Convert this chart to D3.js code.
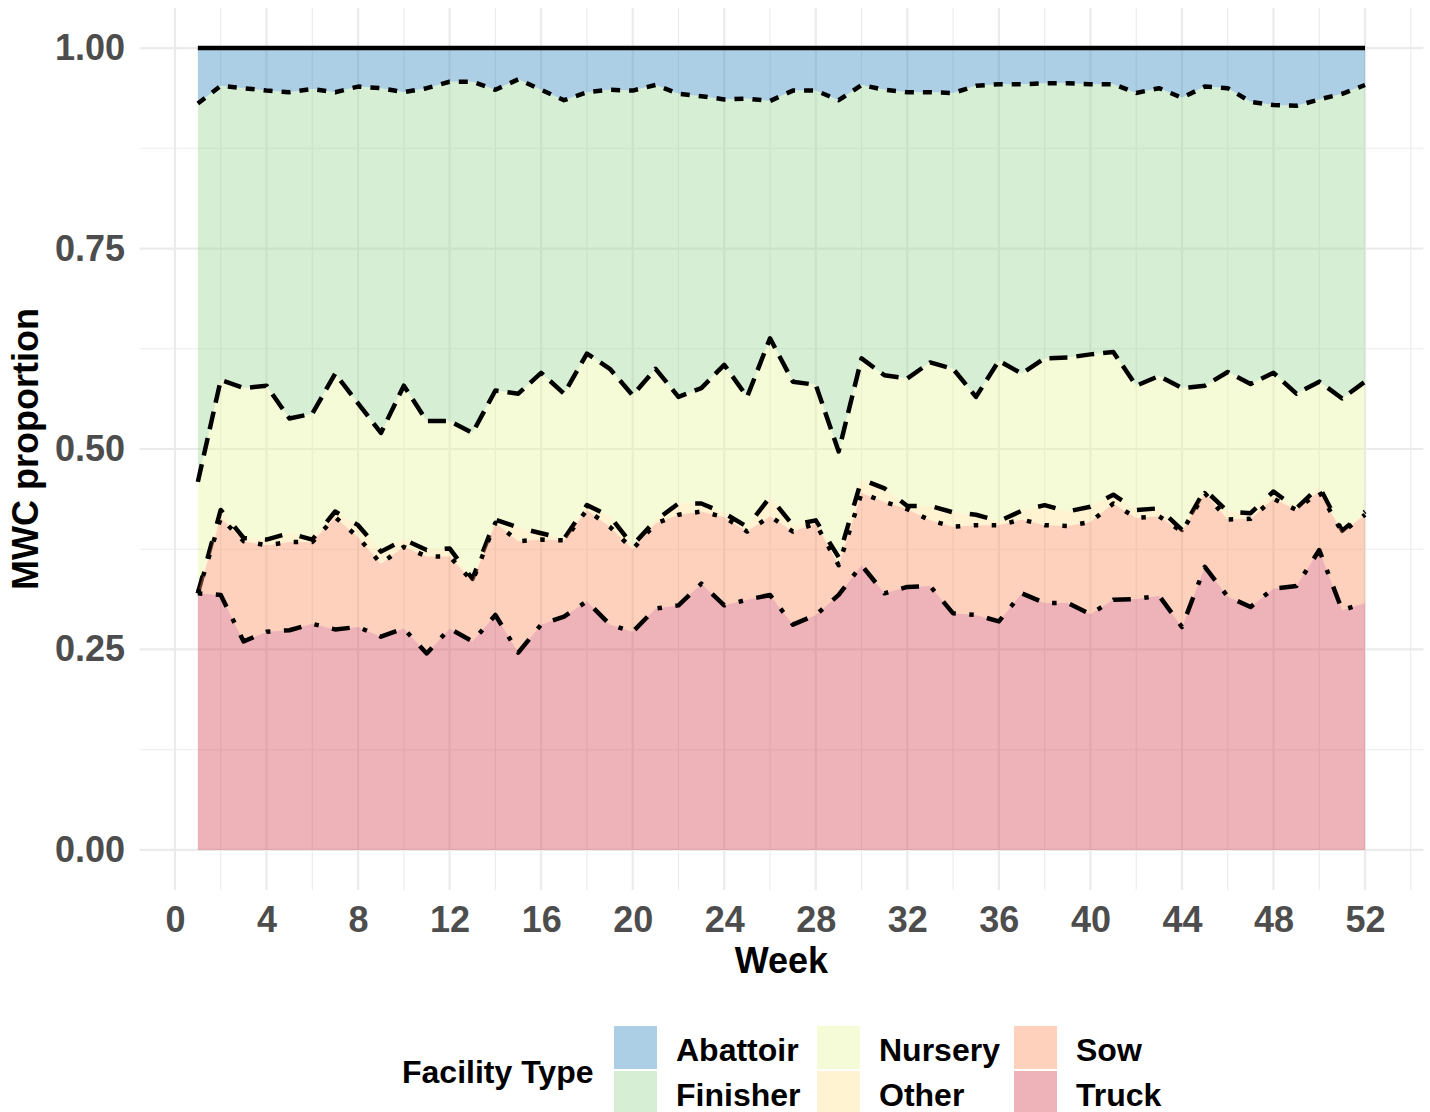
<!DOCTYPE html>
<html>
<head>
<meta charset="utf-8">
<script src="https://cdn.jsdelivr.net/npm/d3@7"></script>
<style>
  body { margin: 0; background: #fff; }
  svg { display: block; font-family: "Liberation Sans", Arial, sans-serif; }
</style>
</head>
<body>
<div id="chart"></div>
<script>
// weeks 1..52
const weeks = d3.range(1, 53);

// proportion of MWC by facility type, per week
const truck = [0.320,0.318,0.260,0.272,0.274,0.282,0.275,0.278,0.266,0.276,0.245,0.276,0.260,0.293,0.246,0.281,0.291,0.310,0.281,0.272,0.301,0.305,0.332,0.305,0.312,0.318,0.281,0.293,0.318,0.355,0.320,0.328,0.329,0.295,0.293,0.285,0.320,0.308,0.308,0.294,0.312,0.313,0.317,0.278,0.353,0.316,0.303,0.326,0.329,0.374,0.299,0.308];
const sow = [0.000,0.096,0.125,0.108,0.110,0.102,0.140,0.112,0.091,0.102,0.121,0.090,0.075,0.115,0.139,0.106,0.095,0.114,0.122,0.103,0.106,0.113,0.090,0.110,0.085,0.098,0.116,0.114,0.037,0.090,0.114,0.097,0.082,0.108,0.112,0.120,0.092,0.097,0.096,0.115,0.120,0.101,0.099,0.119,0.092,0.096,0.110,0.112,0.095,0.073,0.097,0.110];
const other = [0.000,0.010,0.004,0.007,0.011,0.003,0.007,0.015,0.015,0.009,0.008,0.010,0.003,0.004,0.017,0.008,0.002,0.006,0.013,0.005,0.004,0.014,0.010,0.005,0.006,0.024,0.008,0.004,0.010,0.017,0.017,0.004,0.018,0.018,0.013,0.005,0.011,0.025,0.018,0.019,0.011,0.010,0.010,0.002,0.004,0.010,0.007,0.009,0.002,0.006,0.002,0.004];
const nursery = [0.139,0.162,0.187,0.192,0.143,0.157,0.172,0.152,0.148,0.192,0.161,0.159,0.182,0.161,0.167,0.200,0.181,0.189,0.184,0.187,0.189,0.133,0.144,0.185,0.162,0.198,0.179,0.169,0.132,0.151,0.141,0.159,0.179,0.179,0.147,0.200,0.171,0.183,0.192,0.190,0.178,0.155,0.165,0.177,0.130,0.174,0.161,0.148,0.143,0.131,0.165,0.162];
const finisher = [0.472,0.367,0.374,0.368,0.407,0.405,0.351,0.395,0.430,0.366,0.415,0.423,0.438,0.375,0.392,0.353,0.366,0.326,0.348,0.380,0.354,0.378,0.364,0.331,0.372,0.296,0.363,0.367,0.438,0.341,0.356,0.357,0.337,0.344,0.388,0.345,0.361,0.343,0.342,0.337,0.334,0.365,0.359,0.362,0.373,0.354,0.352,0.334,0.359,0.352,0.380,0.370];
const abattoir = [0.069,0.047,0.050,0.053,0.055,0.051,0.055,0.048,0.050,0.055,0.050,0.042,0.042,0.052,0.039,0.052,0.065,0.055,0.052,0.053,0.046,0.057,0.060,0.064,0.063,0.066,0.053,0.053,0.065,0.046,0.052,0.055,0.055,0.056,0.047,0.045,0.045,0.044,0.044,0.045,0.045,0.056,0.050,0.062,0.048,0.050,0.067,0.071,0.072,0.064,0.057,0.046];

const facilityTypes = ["Abattoir", "Finisher", "Nursery", "Other", "Sow", "Truck"];
const xTicks = [0, 4, 8, 12, 16, 20, 24, 28, 32, 36, 40, 44, 48, 52];
const yTicks = [0, 0.25, 0.5, 0.75, 1];

const series = { Abattoir: abattoir, Finisher: finisher, Nursery: nursery, Other: other, Sow: sow, Truck: truck };

// table for d3.stack
const table = weeks.map((w, i) => {
    const row = { week: w };
    facilityTypes.forEach(k => row[k] = series[k][i]);
    return row;
});

const width = 1430, height = 1112;
const panel = { left: 139.5, right: 1423.4, top: 8, bottom: 890 };

// Spectral, alpha 0.4
const color = d3.scaleOrdinal()
    .domain(facilityTypes)
    .range(["#3288BD", "#99D594", "#E6F598", "#FEE08B", "#FC8D59", "#D53E4F"]);

const lw = 4.5;
const dashes = {
    Abattoir: null,
    Finisher: [2 * lw, 2 * lw],
    Nursery: [4 * lw, 2 * lw],
    Other: [4 * lw, 4 * lw],
    Sow: [lw, 3 * lw],
    Truck: [lw, 3 * lw, 4 * lw, 3 * lw]
};

const x = d3.scaleLinear().domain([-1.55, 54.55]).range([panel.left, panel.right]);
const y = d3.scaleLinear().domain([-0.05, 1.05]).range([panel.bottom, panel.top]);

const svg = d3.select("#chart").append("svg")
    .attr("width", width)
    .attr("height", height);

svg.append("rect").attr("width", width).attr("height", height).attr("fill", "#fff");

// grid
const grid = svg.append("g");
const xMinor = xTicks.map(d => d + 2);
const yMinor = yTicks.slice(0, -1).map(d => d + 0.125);
grid.selectAll(".xminor").data(xMinor).join("line")
    .attr("x1", d => x(d)).attr("x2", d => x(d))
    .attr("y1", panel.top).attr("y2", panel.bottom)
    .attr("stroke", "#EBEBEB").attr("stroke-width", 1.1);
grid.selectAll(".yminor").data(yMinor).join("line")
    .attr("y1", d => y(d)).attr("y2", d => y(d))
    .attr("x1", panel.left).attr("x2", panel.right)
    .attr("stroke", "#EBEBEB").attr("stroke-width", 1.1);
grid.selectAll(".xmajor").data(xTicks).join("line")
    .attr("x1", d => x(d)).attr("x2", d => x(d))
    .attr("y1", panel.top).attr("y2", panel.bottom)
    .attr("stroke", "#EBEBEB").attr("stroke-width", 2.2);
grid.selectAll(".ymajor").data(yTicks).join("line")
    .attr("y1", d => y(d)).attr("y2", d => y(d))
    .attr("x1", panel.left).attr("x2", panel.right)
    .attr("stroke", "#EBEBEB").attr("stroke-width", 2.2);

// stacked areas, Truck at bottom
const stack = d3.stack().keys(facilityTypes.slice().reverse());
const layers = stack(table);

const area = d3.area()
    .x(d => x(d.data.week))
    .y0(d => y(d[0]))
    .y1(d => y(d[1]));
const line = d3.line()
    .x(d => x(d.data.week))
    .y(d => y(d[1]));

// ggplot draws groups in level order: Abattoir first
const drawOrder = facilityTypes.map(k => layers.find(l => l.key === k));
const g = svg.append("g");
drawOrder.forEach(layer => {
    g.append("path")
        .datum(layer)
        .attr("d", area)
        .attr("fill", color(layer.key))
        .attr("fill-opacity", 0.4);
    g.append("path")
        .datum(layer)
        .attr("d", line)
        .attr("fill", "none")
        .attr("stroke", "#000")
        .attr("stroke-width", lw)
        .attr("stroke-linejoin", "round")
        .attr("stroke-dasharray", dashes[layer.key] ? dashes[layer.key].join(",") : null);
});

// axes
const xAxis = svg.append("g")
    .attr("transform", `translate(0, ${panel.bottom})`)
    .call(d3.axisBottom(x).tickValues(xTicks).tickSize(0).tickPadding(16));
const yAxis = svg.append("g")
    .attr("transform", `translate(${panel.left}, 0)`)
    .call(d3.axisLeft(y).tickValues(yTicks).tickFormat(d3.format(".2f")).tickSize(0).tickPadding(14.5));
[xAxis, yAxis].forEach(a => {
    a.select(".domain").remove();
    a.selectAll("text")
        .attr("font-family", "'Liberation Sans', Arial, sans-serif")
        .style("font-size", "36px")
        .style("font-weight", "bold")
        .attr("fill", "#4D4D4D");
});

// axis titles
svg.append("text")
    .attr("x", (panel.left + panel.right) / 2)
    .attr("y", 973)
    .attr("text-anchor", "middle")
    .style("font-size", "36px")
    .style("font-weight", "bold")
    .text("Week");

svg.append("text")
    .attr("transform", `translate(38, ${(panel.top + panel.bottom) / 2}) rotate(-90)`)
    .attr("text-anchor", "middle")
    .style("font-size", "36px")
    .style("font-weight", "bold")
    .text("MWC proportion");

// legend
const legend = svg.append("g");
legend.append("text")
    .attr("x", 402)
    .attr("y", 1083)
    .style("font-size", "32px")
    .style("font-weight", "bold")
    .text("Facility Type");

const colX = [614, 817, 1014];
const rowY = [1026, 1071];
facilityTypes.forEach((k, i) => {
    const col = Math.floor(i / 2), row = i % 2;
    legend.append("rect")
        .attr("x", colX[col]).attr("y", rowY[row])
        .attr("width", 43).attr("height", 43)
        .attr("fill", color(k)).attr("fill-opacity", 0.4);
    legend.append("text")
        .attr("x", colX[col] + 62)
        .attr("y", rowY[row] + 35)
        .style("font-size", "32px")
        .style("font-weight", "bold")
        .text(k);
});
</script>
</body>
</html>
